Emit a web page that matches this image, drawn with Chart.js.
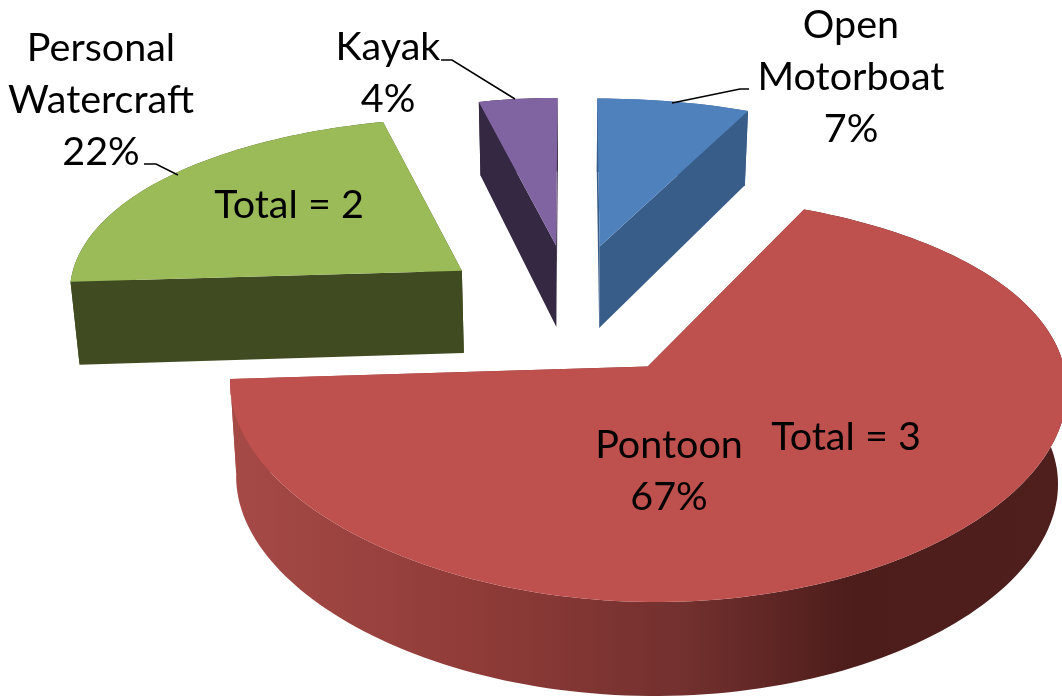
<!DOCTYPE html>
<html>
<head>
<meta charset="utf-8">
<title>Boat types</title>
<script src="https://cdn.jsdelivr.net/npm/chart.js@4/dist/chart.umd.js"></script>
<style>
    html, body { margin: 0; padding: 0; background: #fff; overflow: hidden; }
    canvas { display: block; }
</style>
</head>
<body>
<canvas id="boatChart" width="1062" height="698"></canvas>
<script>
// Chart data
const categories = ['Open Motorboat', 'Pontoon', 'Personal Watercraft', 'Kayak'];
const shares = [7, 67, 22, 4];
const totals = [null, 3, 2, null];

// Slice colours, top face and side walls
const topColors = ['#4F81BD', '#BE504D', '#9BBB59', '#8064A2'];
const wallColors = ['#395D89', null, '#404B21', '#342842'];
const explosion = [33, 33, 35, 33];

// Per slice corrections to the tilted view
const stretchX = [1, 1.02, 1, 0.9];
const stretchY = [1, 0.97, 1, 1];
const shiftY = [0, 9, 4, 0];
const wallDepth = [null, 94, null, null];

// Camera used to tilt the pie (unit disc -> screen)
const CAM = { cx: 572, ax: 397, perspX: 0.1, y0: 304, by: 140, perspY: 0.156, depth: 84, depthSlope: 8, taper: 0.018 };

function project(X, Y, z, depth) {
    const x = CAM.ax * X / (1 - CAM.perspX * Y);
    const wall = depth || CAM.depth + CAM.depthSlope * Y;
    return {
        x: CAM.cx + x * (1 - CAM.taper * z),
        y: (CAM.y0 + CAM.by * Y) / (1 - CAM.perspY * Y) + z * wall
    };
}

function pontoonGradient(ctx) {
    const g = ctx.createLinearGradient(230, 0, 1062, 0);
    g.addColorStop(0, '#A64A46');
    g.addColorStop(0.3, '#8F3B38');
    g.addColorStop(0.55, '#72302E');
    g.addColorStop(0.75, '#4C1D1B');
    g.addColorStop(1, '#4F1F1E');
    return g;
}

// Arc element drawn as an extruded slice, still placed by the pie controller's angles
class Arc3D extends Chart.ArcElement {
    static id = 'arc3d';

    draw(ctx) {
        const { startAngle, endAngle } = this;
        const index = this.$context.index;
        const mid = (startAngle + endAngle) / 2;
        const ox = Math.cos(mid) * this.options.offset / 100;
        const oy = Math.sin(mid) * this.options.offset / 100;
        const place = (X, Y, z) => {
            const p = project(X, Y, z, wallDepth[index]);
            return { x: p.x, y: p.y + shiftY[index] };
        };
        const rim = (a, z) => place(ox + stretchX[index] * Math.cos(a), oy + stretchY[index] * Math.sin(a), z);
        const apex = z => place(ox, oy, z);

        const steps = Math.max(4, Math.ceil((endAngle - startAngle) * 40));
        const angles = [];
        for (let i = 0; i <= steps; i++) {
            angles.push(startAngle + (endAngle - startAngle) * i / steps);
        }

        const fillPath = (points, fill) => {
            ctx.beginPath();
            points.forEach((p, i) => (i ? ctx.lineTo(p.x, p.y) : ctx.moveTo(p.x, p.y)));
            ctx.closePath();
            ctx.fillStyle = fill;
            ctx.fill();
        };

        ctx.save();
        const wall = wallColors[index] || pontoonGradient(ctx);
        fillPath([apex(0), rim(startAngle, 0), rim(startAngle, 1), apex(1)], wall);
        fillPath([apex(0), rim(endAngle, 0), rim(endAngle, 1), apex(1)], wall);
        fillPath([
            ...angles.map(a => rim(a, 0)),
            ...angles.slice().reverse().map(a => rim(a, 1))
        ], wall);
        fillPath([apex(0), ...angles.map(a => rim(a, 0))], this.options.backgroundColor);
        ctx.restore();
    }
}

class Pie3DController extends Chart.PieController {
    static id = 'pie3d';
    static defaults = { dataElementType: 'arc3d' };
}

Chart.register(Arc3D, Pie3DController);

// Data labels and leader lines
const labelLines = [
    ['Open', 'Motorboat', '7%'],
    ['Pontoon', '67%'],
    ['Personal', 'Watercraft', '22%'],
    ['Kayak', '4%']
];
const labelSpots = [[851, 25], [669, 445], [101, 48], [388, 47]];
const totalSpots = [null, [846, 437], [289, 205], null];
const leaders = [
    [[749, 89], [740, 89], [672, 103]],
    null,
    [[144, 164], [156, 164], [178, 175]],
    [[441, 60], [452, 60], [515, 99]]
];

const labelPlugin = {
    id: 'labelPlugin',
    afterDatasetsDraw(chart) {
        const ctx = chart.ctx;
        ctx.save();
        ctx.fillStyle = '#000';
        ctx.strokeStyle = '#000';
        ctx.lineWidth = 1.5;
        ctx.font = '39.5px Lato, Carlito, sans-serif';
        ctx.textAlign = 'center';
        ctx.textBaseline = 'middle';
        categories.forEach((name, i) => {
            labelLines[i].forEach((text, n) => {
                ctx.fillText(text, labelSpots[i][0], labelSpots[i][1] + n * 52);
            });
            if (totals[i] !== null) {
                ctx.fillText(`Total = ${totals[i]}`, totalSpots[i][0], totalSpots[i][1]);
            }
            if (leaders[i]) {
                ctx.beginPath();
                leaders[i].forEach((p, n) => (n ? ctx.lineTo(p[0], p[1]) : ctx.moveTo(p[0], p[1])));
                ctx.stroke();
            }
        });
        ctx.restore();
    }
};

new Chart(document.getElementById('boatChart'), {
    type: 'pie3d',
    data: {
        labels: categories,
        datasets: [{
            data: shares,
            backgroundColor: topColors,
            offset: explosion,
            borderWidth: 0
        }]
    },
    options: {
        responsive: false,
        animation: false,
        plugins: { legend: { display: false }, tooltip: { enabled: false } }
    },
    plugins: [labelPlugin]
});
</script>
</body>
</html>
